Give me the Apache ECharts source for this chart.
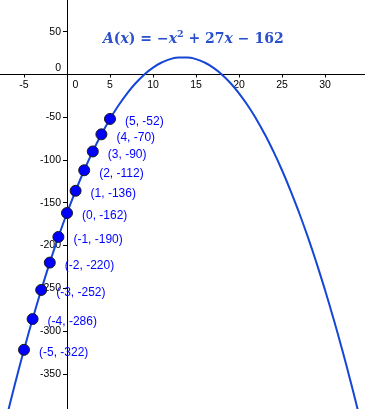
<!DOCTYPE html>
<html><head><meta charset="utf-8">
<script src="https://cdn.jsdelivr.net/npm/echarts@6/dist/echarts.min.js"></script>
<style>html,body{margin:0;padding:0;background:#fff}#c{width:365px;height:409px}</style>
</head><body><div id="c"></div>
<script>
// Curve samples of A(x) at integer x
const curveX = [-8,-7,-6,-5,-4,-3,-2,-1,0,1,2,3,4,5,6,7,8,9,10,11,12,13,14,15,16,17,18,19,20,21,22,23,24,25,26,27,28,29,30,31,32,33,34,35];
const curveY = [-442,-400,-360,-322,-286,-252,-220,-190,-162,-136,-112,-90,-70,-52,-36,-22,-10,0,8,14,18,20,20,18,14,8,0,-10,-22,-36,-52,-70,-90,-112,-136,-162,-190,-220,-252,-286,-322,-360,-400,-442];
// Labelled points
const pointX = [5,4,3,2,1,0,-1,-2,-3,-4,-5];
const pointY = [-52,-70,-90,-112,-136,-162,-190,-220,-252,-286,-322];
// Tick labels
const xTicks = [-5,0,5,10,15,20,25,30];
const yTicks = [50,0,-50,-100,-150,-200,-250,-300,-350];

const W = 365, H = 409;
const xMin = -7.79, xMax = 34.65, yMin = -391.2, yMax = 87.1;
// pixel offsets of the axes from grid edges (axes cross at origin)
const xAxisOffset = -(H * (0 - yMin) / (yMax - yMin));
const yAxisOffset = -(W * (0 - xMin) / (xMax - xMin));

const chart = echarts.init(document.getElementById('c'));
const axisFont = {fontFamily:'Liberation Sans, Arial, sans-serif', fontSize:10.5, color:'#000'};
chart.setOption({
  animation:false,
  backgroundColor:'#fff',
  grid:{left:0,right:0,top:0,bottom:0,containLabel:false,outerBoundsMode:'none'},
  xAxis:{type:'value', min:xMin, max:xMax, position:'bottom', offset:xAxisOffset,
    axisLine:{onZero:false, lineStyle:{color:'#000',width:1}},
    splitLine:{show:false},
    axisTick:{show:true, length:3, customValues:xTicks, lineStyle:{color:'#000'}},
    axisLabel:Object.assign({customValues:xTicks, margin:5,
      formatter:v=> v===0 ? '{z|0}' : String(v),
      rich:{z:Object.assign({padding:[0,0,0,17]},axisFont)}},axisFont)
  },
  yAxis:{type:'value', min:yMin, max:yMax, position:'left', offset:yAxisOffset,
    axisLine:{onZero:false, lineStyle:{color:'#000',width:1}},
    splitLine:{show:false},
    axisTick:{show:true, length:4, customValues:yTicks, lineStyle:{color:'#000'}},
    axisLabel:Object.assign({customValues:yTicks, margin:6,
      formatter:v=> v===0 ? '{z|0}' : String(v),
      rich:{z:Object.assign({padding:[0,0,12,0]},axisFont)}},axisFont)
  },
  graphic:[{type:'text', left:103, top:30, z:100,
    style:{
      text:'{it|A}{n|(}{it|x}{n|) = −}{it|x}{sup|2}{n| + 27}{it|x}{n| − 162}',
      rich:{
        it:{fontFamily:'DejaVu Serif, serif', fontStyle:'italic', fontWeight:'bold', fontSize:14, fill:'#2a50cc'},
        n:{fontFamily:'DejaVu Serif, serif', fontWeight:'bold', fontSize:14, fill:'#2a50cc'},
        sup:{fontFamily:'DejaVu Serif, serif', fontWeight:'bold', fontSize:9.5, fill:'#2a50cc', padding:[0,0,9,0]}
      }
    }}],
  series:[
    {type:'line', data:curveX.map((x,i)=>[x,curveY[i]]), smooth:true, showSymbol:false,
     lineStyle:{color:'#1546d6', width:2}, z:2, silent:true},
    {type:'scatter', data:pointX.map((x,i)=>[x,pointY[i]]), symbolSize:11, z:3,
     itemStyle:{color:'#0000ff', borderColor:'#1a1a1a', borderWidth:1, opacity:1},
     label:{show:true, position:'right', distance:9, offset:[0,3],
       formatter:p=>'('+p.value[0]+', '+p.value[1]+')',
       fontFamily:'Liberation Sans, Arial, sans-serif', fontSize:12, color:'#0000ff'}}
  ]
});
</script></body></html>
